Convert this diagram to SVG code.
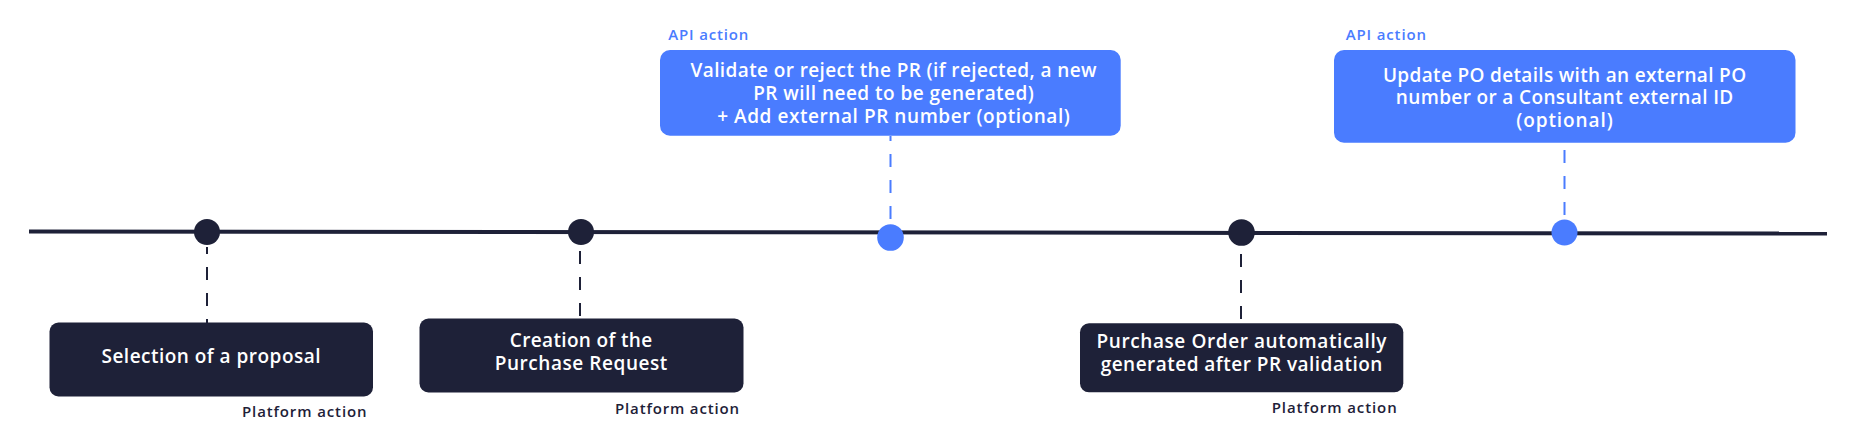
<svg xmlns="http://www.w3.org/2000/svg" width="1860" height="441" viewBox="0 0 1860 441">
<style>
.bg{fill:#ffffff}
.tl{stroke:#1e2138;stroke-width:4;fill:none}
.dd{stroke:#1e2138;stroke-width:2;stroke-dasharray:13 13;fill:none}
.bd{stroke:#4a7cff;stroke-width:2;stroke-dasharray:13 13;fill:none}
.dot-d{fill:#1e2138}
.dot-b{fill:#4a7cff}
.box-d{fill:#1e2138}
.box-b{fill:#4a7cff}
.t{font-family:"Open Sans","Liberation Sans",sans-serif;font-weight:600;font-size:19px;fill:#ffffff;text-anchor:middle}
.pa{font-family:"Open Sans","Liberation Sans",sans-serif;font-weight:600;font-size:15px;fill:#1e2138;text-anchor:end}
.api{font-family:"Open Sans","Liberation Sans",sans-serif;font-weight:600;font-size:15px;fill:#4a7cff}
</style>
<rect class="bg" x="0" y="0" width="1860" height="441"/>
<g id="connectors">
<line class="tl" x1="29" y1="231.5" x2="1827" y2="233.5"/>
<line class="dd" x1="207" y1="247" x2="207" y2="323" stroke-dashoffset="6"/>
<line class="dd" x1="580" y1="251" x2="580" y2="318"/>
<line class="bd" x1="890.5" y1="136" x2="890.5" y2="222" stroke-dashoffset="8"/>
<line class="dd" x1="1241" y1="254" x2="1241" y2="322"/>
<line class="bd" x1="1564.5" y1="150" x2="1564.5" y2="217"/>
</g>
<g id="node-selection">
<circle class="dot-d" cx="207" cy="232" r="13"/>
<rect class="box-d" x="49.5" y="322.5" width="323.5" height="74" rx="9"/>
<text class="t" x="211" y="362.5" textLength="219">Selection of a proposal</text>
<text class="pa" x="366.5" y="416.5" textLength="124.5">Platform action</text>
</g>
<g id="node-creation">
<circle class="dot-d" cx="581" cy="232" r="13"/>
<rect class="box-d" x="419.5" y="318.5" width="324" height="74" rx="9"/>
<text class="t" x="581" y="346.5" textLength="142.3">Creation of the</text>
<text class="t" x="581" y="370" textLength="172.7">Purchase Request</text>
<text class="pa" x="739" y="413.5" textLength="124">Platform action</text>
</g>
<g id="node-validate">
<circle class="dot-b" cx="890.5" cy="237.5" r="13.3"/>
<rect class="box-b" x="660" y="50" width="460.7" height="85.7" rx="10"/>
<text class="api" x="668.3" y="40" textLength="80">API action</text>
<text class="t" x="893.5" y="76.5" textLength="406">Validate or reject the PR (if rejected, a new</text>
<text class="t" x="893.5" y="99.5" textLength="280.7">PR will need to be generated)</text>
<text class="t" x="893.5" y="122.5" textLength="352.7">+ Add external PR number (optional)</text>
</g>
<g id="node-po">
<circle class="dot-d" cx="1241.5" cy="232.5" r="13.3"/>
<rect class="box-d" x="1080" y="323.3" width="323.3" height="69" rx="9"/>
<text class="t" x="1241.5" y="348.3" textLength="290">Purchase Order automatically</text>
<text class="t" x="1241.5" y="370.7" textLength="281.7">generated after PR validation</text>
<text class="pa" x="1396.7" y="413.3" textLength="125">Platform action</text>
</g>
<g id="node-update">
<circle class="dot-b" cx="1564.5" cy="232.5" r="13"/>
<rect class="box-b" x="1334" y="50" width="461.5" height="92.7" rx="10"/>
<text class="api" x="1345.7" y="40" textLength="80.3">API action</text>
<text class="t" x="1564.5" y="81.7" textLength="363.2">Update PO details with an external PO</text>
<text class="t" x="1564.5" y="104" textLength="337.5">number or a Consultant external ID</text>
<text class="t" x="1564.5" y="127.3" textLength="96.4">(optional)</text>
</g>
</svg>
